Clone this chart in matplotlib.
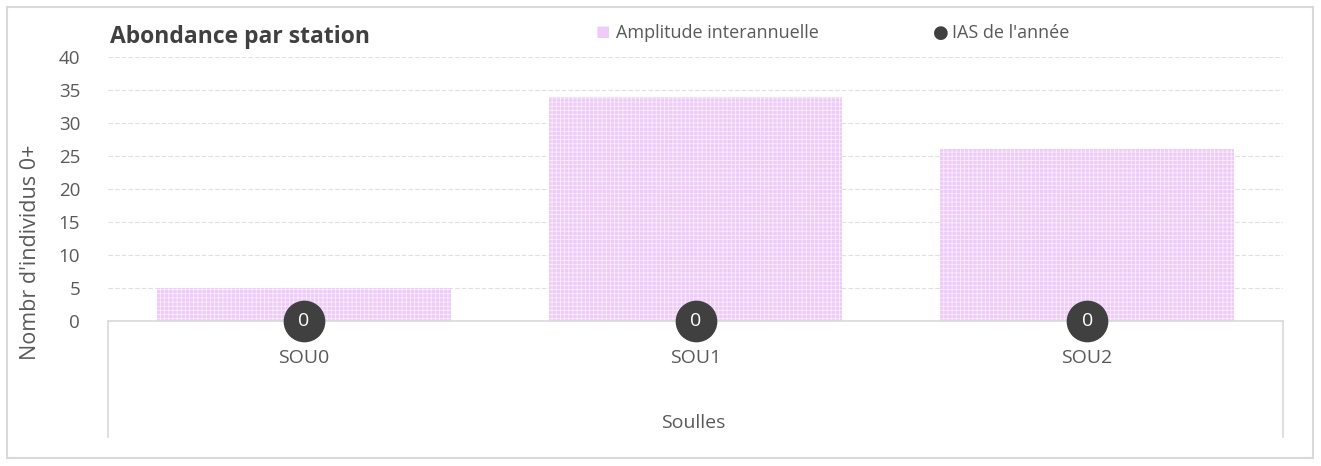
import numpy as np
import matplotlib.pyplot as plt
from matplotlib.patches import Rectangle

plt.rcParams['font.family'] = ['Open Sans', 'DejaVu Sans']

# data
stations = ['SOU0', 'SOU1', 'SOU2']
amplitude = [5, 34, 26]
ias = [0, 0, 0]
yticks = [0, 5, 10, 15, 20, 25, 30, 35, 40]

grey_txt = '#595959'
lilac = '#eecbf9'
hatch_col = '#f9ecfd'
dark = '#404040'

fig = plt.figure(figsize=(13.21, 4.66), dpi=100)
fig.patches.append(Rectangle((7 / 1321, 8 / 466), 1306 / 1321, 451 / 466, transform=fig.transFigure,
                             fill=False, edgecolor='#d9d9d9', linewidth=1.5))

ax = fig.add_axes([108 / 1321, 145 / 466, 1175 / 1321, 264 / 466])
x = np.arange(len(stations))

plt.rcParams['hatch.linewidth'] = 0.6
ax.bar(x, amplitude, width=0.75, color=lilac, edgecolor=hatch_col, hatch='++++', linewidth=0, zorder=2)
ax.plot(x, ias, 'o', color=dark, markersize=29, clip_on=False, zorder=4)
for xi, v in zip(x, ias):
    ax.text(xi, v, str(v), color='white', ha='center', va='center', fontsize=14, zorder=5)

ax.set_xlim(-0.5, len(stations) - 0.5)
ax.set_ylim(0, 40)
ax.set_yticks(yticks)
ax.yaxis.grid(True, linestyle=(0, (4, 2)), color='#e0e0e0', linewidth=0.8, zorder=0)
ax.tick_params(axis='y', length=0, labelsize=13.5, colors=grey_txt, pad=20)
ax.set_xticks(x)
ax.set_xticklabels(stations)
ax.tick_params(axis='x', length=0, labelsize=14, colors=grey_txt, pad=20)
for s in ['top', 'right', 'left']:
    ax.spines[s].set_visible(False)
ax.spines['bottom'].set_color('#d9d9d9')
ax.spines['bottom'].set_linewidth(1.2)
for xx in [0, 1]:
    ax.plot([xx, xx], [0, -0.44], transform=ax.transAxes, color='#d9d9d9', linewidth=1.2, clip_on=False)

fig.text(30 / 1321, 1 - 252 / 466, "Nombr d'individus 0+", rotation=90, ha='center', va='center',
         fontsize=15.5, color=grey_txt)
fig.text(693 / 1321, 1 - 423 / 466, 'Soulles', ha='center', va='center', fontsize=14, color=grey_txt)

fig.text(110 / 1321, 1 - 37 / 466, 'Abondance par station', ha='left', va='center', fontsize=16.5,
         fontweight='bold', color='#404040')

# legend
fig.text(603 / 1321, 1 - 33 / 466, '\u25A0', ha='center', va='center', fontsize=11, color=lilac)
fig.text(616 / 1321, 1 - 33 / 466, 'Amplitude interannuelle', ha='left', va='center', fontsize=13,
         color=grey_txt)
fig.text(941 / 1321, 1 - 33 / 466, '\u25CF', ha='center', va='center', fontsize=13, color=dark)
fig.text(952 / 1321, 1 - 33 / 466, "IAS de l'année", ha='left', va='center', fontsize=13,
         color=grey_txt)

fig.savefig('out.png', dpi=100)
